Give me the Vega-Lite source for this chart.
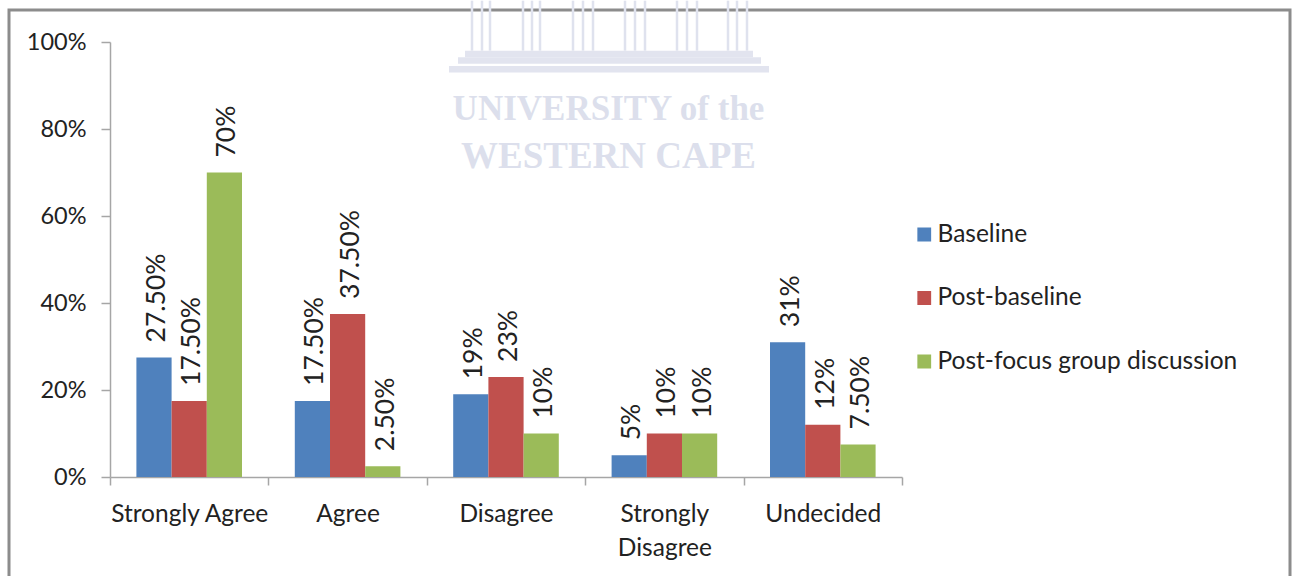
{"$schema":"https://vega.github.io/schema/vega-lite/v6.json","autosize":{"type":"none"},"padding":{"left":9,"top":10,"right":4,"bottom":0},"width":1281,"height":570,"background":"white","view":{"stroke":"#8c8c8c","strokeWidth":3,"fill":"white"},"title":{"text":"UNIVERSITY of the","subtitle":"WESTERN CAPE","anchor":"middle","frame":"group","orient":"top","dx":-41,"dy":180,"font":"Liberation Serif","fontWeight":"bold","fontSize":35,"color":"#dcdfec","subtitleFont":"Liberation Serif","subtitleFontWeight":"bold","subtitleFontSize":37,"subtitleColor":"#dcdfec","subtitlePadding":12},"config":{"font":"Lato"},"resolve":{"scale":{"x":"independent"}},"layer":[{"data":{"values":[{"c":"Strongly Agree","s":"Baseline","v":0.275,"l":"27.50%"},{"c":"Strongly Agree","s":"Post-baseline","v":0.175,"l":"17.50%"},{"c":"Strongly Agree","s":"Post-focus group discussion","v":0.7,"l":"70%"},{"c":"Agree","s":"Baseline","v":0.175,"l":"17.50%"},{"c":"Agree","s":"Post-baseline","v":0.375,"l":"37.50%"},{"c":"Agree","s":"Post-focus group discussion","v":0.025,"l":"2.50%"},{"c":"Disagree","s":"Baseline","v":0.19,"l":"19%"},{"c":"Disagree","s":"Post-baseline","v":0.23,"l":"23%"},{"c":"Disagree","s":"Post-focus group discussion","v":0.1,"l":"10%"},{"c":"Strongly Disagree","s":"Baseline","v":0.05,"l":"5%"},{"c":"Strongly Disagree","s":"Post-baseline","v":0.1,"l":"10%"},{"c":"Strongly Disagree","s":"Post-focus group discussion","v":0.1,"l":"10%"},{"c":"Undecided","s":"Baseline","v":0.31,"l":"31%"},{"c":"Undecided","s":"Post-baseline","v":0.12,"l":"12%"},{"c":"Undecided","s":"Post-focus group discussion","v":0.075,"l":"7.50%"}]},"encoding":{"x":{"field":"c","type":"nominal","sort":["Strongly Agree","Agree","Disagree","Strongly Disagree","Undecided"],"scale":{"range":[101,893],"paddingInner":0,"paddingOuter":0},"axis":{"title":null,"labelAngle":0,"labelFont":"Lato","labelFontSize":24.5,"labelColor":"#222222","labelPadding":17,"labelLineHeight":34,"labelBaseline":"top","labelLimit":300,"tickBand":"extent","tickSize":8,"tickColor":"#a6a6a6","domainColor":"#a6a6a6","tickWidth":1.5,"domainWidth":1.5,"offset":-103,"labelExpr":"datum.label == 'Strongly Disagree' ? ['Strongly','Disagree'] : datum.label"}},"xOffset":{"field":"s","type":"nominal","sort":["Baseline","Post-baseline","Post-focus group discussion"],"scale":{"paddingInner":0,"paddingOuter":0.75}},"y":{"field":"v","type":"quantitative","scale":{"domain":[0,1],"range":[467,32]},"axis":{"title":null,"values":[0,0.2,0.4,0.6,0.8,1],"format":".0%","grid":false,"labelFont":"Lato","labelFontSize":23.5,"labelColor":"#222222","labelPadding":15,"tickSize":9,"tickColor":"#a6a6a6","domainColor":"#a6a6a6","tickWidth":1.5,"domainWidth":1.5,"offset":-101}}},"layer":[{"mark":{"type":"bar"},"encoding":{"color":{"field":"s","type":"nominal","sort":["Baseline","Post-baseline","Post-focus group discussion"],"scale":{"domain":["Baseline","Post-baseline","Post-focus group discussion"],"range":["#4f81bd","#c0504d","#9bbb59"]},"legend":{"title":null,"orient":"none","legendX":903,"legendY":211,"symbolType":"square","symbolSize":190,"symbolStrokeWidth":0,"labelFont":"Lato","labelFontSize":24.5,"labelColor":"#222222","labelLimit":400,"rowPadding":36.5,"labelOffset":1,"clipHeight":27}}}},{"mark":{"type":"text","angle":270,"align":"left","baseline":"middle","dx":15,"dy":3,"font":"Lato","fontSize":26.5,"color":"#222222"},"encoding":{"text":{"field":"l","type":"nominal"}}}]},{"layer":[{"data":{"values":[{"a":16,"b":304,"top":0.98,"bot":0.965},{"a":9,"b":312,"top":0.965,"bot":0.95},{"a":0,"b":320,"top":0.945,"bot":0.93}]},"mark":{"type":"rect","color":"#e2e4ef","clip":false},"encoding":{"x":{"field":"a","type":"quantitative","scale":{"domain":[0,320],"range":[440,760]},"axis":null},"x2":{"field":"b"},"y":{"field":"top","type":"quantitative"},"y2":{"field":"bot"}}},{"data":{"values":[{"p":23},{"p":33},{"p":41},{"p":74},{"p":83},{"p":91},{"p":124},{"p":134},{"p":144},{"p":176},{"p":186},{"p":196},{"p":228},{"p":238},{"p":248},{"p":279},{"p":288},{"p":298}]},"mark":{"type":"rule","color":"#dfe2ee","strokeWidth":2.5,"clip":false},"encoding":{"x":{"field":"p","type":"quantitative","scale":{"domain":[0,320],"range":[440,760]},"axis":null},"y":{"datum":1.095,"type":"quantitative"},"y2":{"datum":0.98}}}]}]}
